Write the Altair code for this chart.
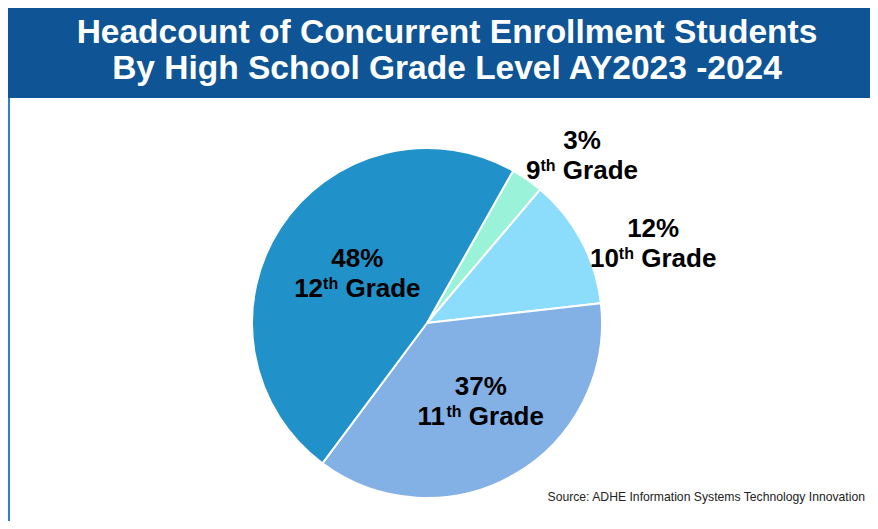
import math
import altair as alt
import pandas as pd

# ---------------- data ----------------
grades = ["9th", "10th", "11th", "12th"]
grade_numbers = ["9", "10", "11", "12"]
percents = [3, 12, 37, 48]

title_lines = [
    "Headcount of Concurrent Enrollment Students",
    "By High School Grade Level AY2023 -2024",
]
source_text = "Source: ADHE Information Systems Technology Innovation"

# ---------------- style / layout ----------------
slice_colors = ["#9AF2D8", "#8CDCFC", "#83B1E5", "#2191CA"]
banner_color = "#0F5596"
side_line_color = "#2F80D0"
FONT = "Liberation Sans"
W, H = 862, 513
CX, CY = 419, 315          # pie centre
R = 175                    # pie radius
START_DEG = 29.5           # first slice starts here (clockwise from north)
# label placement: (angular shift from slice middle in deg, radius px)
label_place = {"9th": (9.4, 222), "10th": (10.7, 237), "11th": (-1.9, 102), "12th": (-2.4, 81)}
F, S = 26, 16              # label font size, superscript font size
LS = 30                    # label line spacing
RAISE = 8                  # superscript raise

ARIAL_BOLD = {c: 556 for c in "0123456789"}
ARIAL_BOLD.update({"t": 333, "h": 611, " ": 278, "G": 778, "r": 389, "a": 556, "d": 611, "e": 556})


def tw(s, size):
    return sum(ARIAL_BOLD.get(c, 556) for c in s) / 1000.0 * size


# ---------------- table ----------------
rows = []
cum = 0.0
for i, (g, n, p) in enumerate(zip(grades, grade_numbers, percents)):
    shift, lr = label_place[g]
    mid_deg = START_DEG + (cum + p / 2.0) * 3.6 + shift
    rows.append({"idx": i, "grade": g, "num": n, "pct": p, "pct_label": f"{p}%",
                 "la": math.radians(mid_deg), "lr": lr})
    cum += p
df = pd.DataFrame(rows)
one = pd.DataFrame({"k": [0]})

start = math.radians(START_DEG)

banner = alt.Chart(one).mark_rect(color=banner_color).encode(
    x=alt.value(0), x2=alt.value(W), y=alt.value(0), y2=alt.value(90)
)
side_line = alt.Chart(one).mark_rule(color=side_line_color, strokeWidth=2).encode(
    x=alt.value(1), y=alt.value(90), y2=alt.value(H)
)
title = alt.Chart(one).mark_text(
    text=title_lines, font=FONT, fontSize=33.5, fontWeight="bold", color="white",
    align="center", baseline="alphabetic", lineHeight=36,
).encode(x=alt.value(439), y=alt.value(34.5))

pie = alt.Chart(df).mark_arc(outerRadius=R, stroke="white", strokeWidth=2).encode(
    theta=alt.Theta("pct:Q", stack=True, scale=alt.Scale(range=[start, start + 2 * math.pi])),
    color=alt.Color("grade:N", scale=alt.Scale(domain=grades, range=slice_colors), legend=None),
    order=alt.Order("idx:Q"),
    x=alt.value(CX), y=alt.value(CY),
)

pos = dict(
    theta=alt.Theta("la:Q", scale=None, stack=False),
    radius=alt.Radius("lr:Q", scale=None),
    x=alt.value(CX), y=alt.value(CY),
)

line1 = alt.Chart(df).mark_text(
    font=FONT, fontSize=F, fontWeight="bold", color="black",
    align="center", baseline="alphabetic", dy=-LS / 2,
).encode(text="pct_label:N", **pos)

layers = [banner, side_line, title, pie, line1]

wt = tw("th", S)
wsp = tw(" ", F)
wg = tw("Grade", F)
for g, n in zip(grades, grade_numbers):
    wn = tw(n, F)
    x0 = -(wn + wt + wsp + wg) / 2.0
    base = alt.Chart(df).transform_filter(alt.datum.grade == g)
    layers.append(base.mark_text(
        font=FONT, fontSize=F, fontWeight="bold", color="black",
        align="left", baseline="alphabetic", dx=x0, dy=LS / 2,
    ).encode(text="num:N", **pos))
    layers.append(base.mark_text(
        text="th", font=FONT, fontSize=S, fontWeight="bold", color="black",
        align="left", baseline="alphabetic", dx=x0 + wn, dy=LS / 2 - RAISE,
    ).encode(**pos))
    layers.append(base.mark_text(
        text="Grade", font=FONT, fontSize=F, fontWeight="bold", color="black",
        align="left", baseline="alphabetic", dx=x0 + wn + wt + wsp, dy=LS / 2,
    ).encode(**pos))

source = alt.Chart(one).mark_text(
    text=source_text, font=FONT, fontSize=12.2, color="#222222",
    align="right", baseline="alphabetic",
).encode(x=alt.value(857), y=alt.value(493))
layers.append(source)

chart = alt.layer(*layers).resolve_scale(theta="independent", radius="independent").properties(
    width=W, height=H, autosize=alt.AutoSizeParams(type="none"), padding=0,
).configure_view(stroke=None)

chart.save("out.html", embed_options={"renderer": "svg", "actions": False})
